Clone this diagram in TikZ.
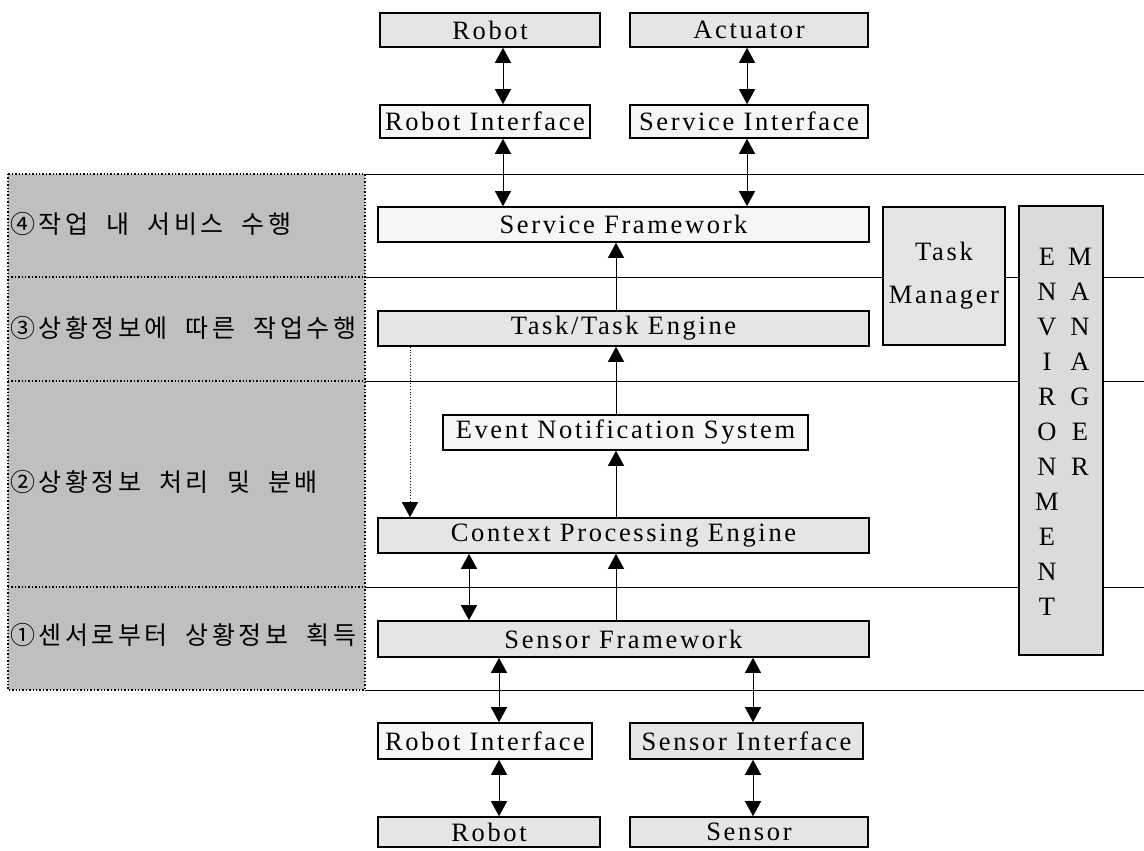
\documentclass[tikz,border=0pt]{standalone}
\usepackage{fontspec}
\setmainfont{Liberation Serif}[LetterSpace=10]
\newfontfamily\kr{Noto Sans CJK KR}[LetterSpace=14,WordSpace=2.0]
\usetikzlibrary{arrows.meta}
\begin{document}
\begin{tikzpicture}[x=1pt,y=-1pt,
  tip/.tip={Triangle[length=15pt,width=16pt]},
  blk/.style={draw,line width=1.6pt,inner sep=0pt,font=\fontsize{26.5}{30}\selectfont},
  boxL/.style={blk,fill=gray!7},
  boxM/.style={blk,fill=gray!20},
  arr/.style={-tip,line width=0.9pt},
  dbl/.style={tip-tip,line width=0.9pt},
  hline/.style={line width=1pt},
  band/.style={black,dotted,line width=1.4pt},
  lbl/.style={anchor=west,inner sep=0pt,font=\kr\fontsize{25}{30}\selectfont}]
\useasboundingbox (0,0) rectangle (1144,851);

% layer bands on the left
\fill[gray!50] (8,174) rectangle (365,690);
\draw[band] (8,174) rectangle (365,690);
\foreach \yy in {277,381,587} \draw[band] (8,\yy) -- (365,\yy);
\node[lbl] (l4) at (10,224) {④작업 내 서비스 수행};
\node[lbl] (l3) at (10,328) {③상황정보에 따른 작업수행};
\node[lbl] (l2) at (10,482) {②상황정보 처리 및 분배};
\node[lbl] (l1) at (10,635) {①센서로부터 상황정보 획득};

% layer boundaries
\foreach \yy in {174,277,381,587,690} \draw[hline] (365,\yy) -- (1144,\yy);

% components
\node[boxM,minimum width=220pt,minimum height=34pt] (robotT) at (490,30) {Robot};
\node[boxM,minimum width=238pt,minimum height=34pt] (actT) at (749,30) {Actuator};
\node[boxL,minimum width=210pt,minimum height=33pt] (riT) at (485,121.5) {Robot Interface};
\node[boxL,minimum width=238pt,minimum height=33pt] (siT) at (749,121.5) {Service Interface};
\node[boxL,minimum width=491pt,minimum height=35pt] (sf) at (623.5,224.5) {Service Framework};
\node[boxM,minimum width=491pt,minimum height=35pt] (tte) at (623.5,328.5) {Task/Task Engine};
\node[boxL,minimum width=365pt,minimum height=35pt] (ens) at (625.5,432.5) {Event Notification System};
\node[boxM,minimum width=491pt,minimum height=35pt] (cpe) at (623.5,535.5) {Context Processing Engine};
\node[boxM,minimum width=491pt,minimum height=36pt] (sfw) at (623.5,639) {Sensor Framework};
\node[boxL,minimum width=214pt,minimum height=36pt] (riB) at (485,741) {Robot Interface};
\node[boxM,minimum width=233pt,minimum height=36pt] (siB) at (746.5,741) {Sensor Interface};
\node[boxM,minimum width=222pt,minimum height=30pt] (robotB) at (489,832) {Robot};
\node[boxM,minimum width=238pt,minimum height=30pt] (sensorB) at (749,832) {Sensor};
\node[boxM,minimum width=122pt,minimum height=138pt,align=center,
      font=\fontsize{26.5}{43}\selectfont] (tm) at (944,276) {Task\\Manager};
\node[blk,fill=gray!28,minimum width=84pt,minimum height=449pt] (env) at (1061,430.5) {};
\node[inner sep=0pt,align=center,font=\fontsize{26.5}{35}\selectfont] (envtxt) at (1063.5,432)
  {\makebox[33pt]{E}\makebox[33pt]{M}\\
   \makebox[33pt]{N}\makebox[33pt]{A}\\
   \makebox[33pt]{V}\makebox[33pt]{N}\\
   \makebox[33pt]{I}\makebox[33pt]{A}\\
   \makebox[33pt]{R}\makebox[33pt]{G}\\
   \makebox[33pt]{O}\makebox[33pt]{E}\\
   \makebox[33pt]{N}\makebox[33pt]{R}\\
   \makebox[33pt]{M}\makebox[33pt]{}\\
   \makebox[33pt]{E}\makebox[33pt]{}\\
   \makebox[33pt]{N}\makebox[33pt]{}\\
   \makebox[33pt]{T}\makebox[33pt]{}};

% x positions of the vertical connectors
\coordinate (xa) at (503,0);
\coordinate (xb) at (747,0);
\coordinate (xc) at (616,0);
\coordinate (xd) at (410,0);
\coordinate (xe) at (469,0);
\coordinate (xf) at (499,0);
\coordinate (xg) at (753,0);

% connectors
\draw[dbl] (robotT.south -| xa) -- (riT.north -| xa);
\draw[dbl] (actT.south -| xb) -- (siT.north -| xb);
\draw[dbl] (riT.south -| xa) -- (sf.north -| xa);
\draw[dbl] (siT.south -| xb) -- (sf.north -| xb);
\draw[arr] (tte.north -| xc) -- (sf.south -| xc);
\draw[arr] (ens.north -| xc) -- (tte.south -| xc);
\draw[arr] (cpe.north -| xc) -- (ens.south -| xc);
\draw[-tip,line width=0.8pt,dotted] (tte.south -| xd) -- (cpe.north -| xd);
\draw[dbl] (cpe.south -| xe) -- (sfw.north -| xe);
\draw[arr] (sfw.north -| xc) -- (cpe.south -| xc);
\draw[dbl] (sfw.south -| xf) -- (riB.north -| xf);
\draw[dbl] (sfw.south -| xg) -- (siB.north -| xg);
\draw[dbl] (riB.south -| xf) -- (robotB.north -| xf);
\draw[dbl] (siB.south -| xg) -- (sensorB.north -| xg);
\end{tikzpicture}
\end{document}
